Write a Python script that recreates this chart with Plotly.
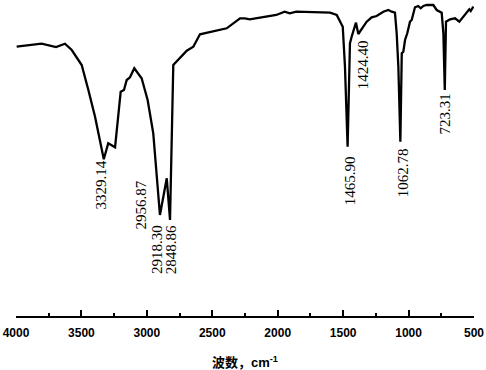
import plotly.graph_objects as go

# Wavenumber (cm^-1) and relative transmittance
wavenumber = [3995, 3804, 3694, 3626, 3574, 3498, 3447, 3396, 3329.14, 3295, 3243, 3200, 3175,
              3154, 3129, 3096, 3040, 2994, 2951, 2900, 2848, 2823, 2798, 2747, 2695, 2645,
              2594, 2390, 2288, 2250, 2214, 2011, 1947, 1908, 1858, 1600, 1549, 1503, 1486,
              1465.90, 1448, 1435, 1402, 1384, 1320, 1282, 1244, 1193, 1155, 1129, 1104, 1091,
              1078, 1062.78, 1052, 1040, 1027, 1010, 1002, 989, 976, 964, 951, 926, 907, 887,
              861, 811, 785, 747, 734, 723.31, 714, 683, 645, 612, 582, 551, 536, 525, 505]
transmittance = [269.3, 272.3, 269, 272.3, 266, 251, 226, 199.3, 156.7, 172.7, 168.7, 224.3, 226,
                 236, 238.7, 247.7, 237.7, 216, 182.7, 101, 137.7, 96, 251, 257.7, 265.3, 269.3,
                 281.7, 287.7, 297.7, 297.7, 296.7, 301, 304.3, 302.7, 304.3, 303.3, 301, 289.3, 249.3,
                 169.3, 272.7, 279.3, 293.3, 282, 294.3, 298.7, 300, 304.3, 306, 304.3, 303.3, 283,
                 249.3, 174.3, 262.7, 264.3, 276, 282.7, 287.7, 294.3, 296, 303.3, 308.7, 310, 307.7, 310,
                 311, 311, 306, 303.3, 282.7, 226, 294.3, 296.7, 297.7, 294.3, 299.3, 304.3, 306.7, 305, 309.3]

# Peak labels: text, label x (cm^-1), label top (transmittance units)
peak_labels = ["3329.14", "2956.87", "2918.30", "2848.86", "1465.90", "1424.40", "1062.78", "723.31"]
label_x = [3358, 3045, 2926, 2818, 1450, 1350, 1045, 729]
label_top = [156, 137, 92, 92, 161, 277, 169, 223]

x_ticks = [4000, 3500, 3000, 2500, 2000, 1500, 1000, 500]

fig = go.Figure()
fig.add_trace(go.Scatter(x=wavenumber, y=transmittance, mode="lines",
                         line=dict(color="black", width=2.3), showlegend=False))

for t, xx, yy in zip(peak_labels, label_x, label_top):
    fig.add_annotation(x=xx, y=yy, xref="x", yref="y", text=t, textangle=-90,
                       showarrow=False, xanchor="center", yanchor="top",
                       font=dict(family="Liberation Serif", size=15, color="black"),
                       borderpad=0)

fig.update_layout(
    width=486, height=370,
    margin=dict(l=16, r=12, t=0, b=54, autoexpand=False),
    paper_bgcolor="white", plot_bgcolor="white",
    xaxis=dict(range=[4000, 500], tickvals=x_ticks, ticktext=[str(v) for v in x_ticks],
               automargin=False, ticklabelstandoff=5,
               showline=True, linecolor="black", linewidth=1.5, mirror=False,
               ticks="inside", ticklen=6, tickwidth=1.5, tickcolor="black",
               minor=dict(dtick=250, ticks="inside", ticklen=3, tickwidth=1.5, tickcolor="black"),
               showgrid=False, zeroline=False,
               tickfont=dict(family="Liberation Sans", size=12, color="black", weight="bold"),
               title=dict(text="波数，cm<sup>-1</sup>", standoff=20,
                          font=dict(family="Liberation Sans, Noto Sans CJK SC", size=13,
                                    color="black", weight="bold"))),
    yaxis=dict(range=[0, 316], visible=False, automargin=False),
)

fig.write_html("out.html", config={"displayModeBar": False},
               post_script="document.body.style.margin='0';document.body.style.padding='0';")
